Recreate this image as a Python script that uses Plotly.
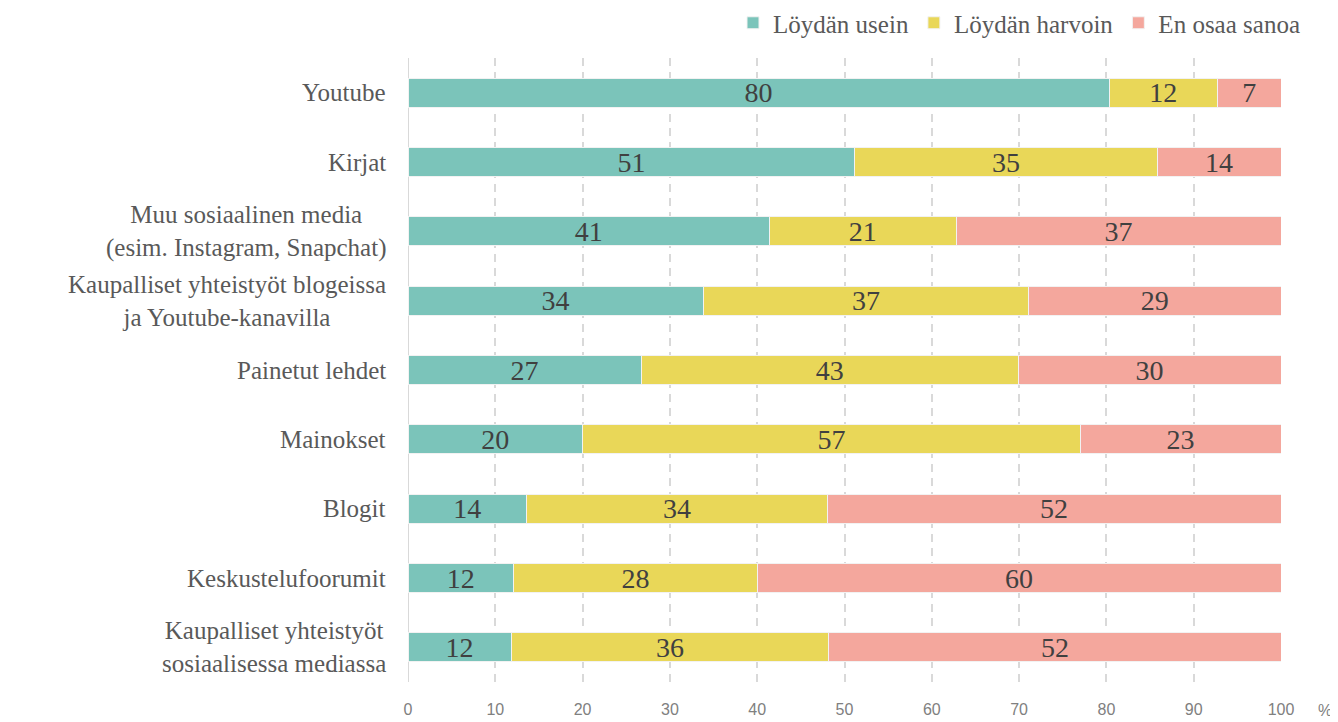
import plotly.graph_objects as go

categories = [
    "Youtube",
    "Kirjat",
    "Muu sosiaalinen media<br>(esim. Instagram, Snapchat)",
    "Kaupalliset yhteistyöt blogeissa<br>ja Youtube-kanavilla",
    "Painetut lehdet",
    "Mainokset",
    "Blogit",
    "Keskustelufoorumit",
    "Kaupalliset yhteistyöt<br>sosiaalisessa mediassa",
]
usein = [80.3, 51.2, 41.4, 33.8, 26.7, 20.0, 13.6, 12.1, 11.8]
harvoin = [12.4, 34.6, 21.4, 37.3, 43.2, 57.0, 34.4, 27.9, 36.4]
en_osaa = [7.3, 14.2, 37.2, 28.9, 30.1, 23.0, 52.0, 60.0, 51.8]
series_names = ["Löydän usein", "Löydän harvoin", "En osaa sanoa"]
colors = ["#7BC4BA", "#E9D758", "#F4A79D"]
xticks = [0, 10, 20, 30, 40, 50, 60, 70, 80, 90, 100]

serif = "Liberation Serif"
narrow = "Liberation Sans Narrow, Arial Narrow, sans-serif"
fig = go.Figure()
for name, vals, col in zip(series_names, [usein, harvoin, en_osaa], colors):
    fig.add_trace(go.Bar(
        y=categories, x=vals, name=name, orientation="h",
        marker=dict(color=col, line=dict(color="#F2F2F2", width=1)),
        texttemplate="%{x:.0f}", textposition="inside", insidetextanchor="middle",
        textangle=0, constraintext="none",
        textfont=dict(family=serif, size=28, color="#404040"),
        width=0.42, hoverinfo="skip",
    ))

for c in categories:
    fig.add_annotation(x=0, xref="paper", y=c, yref="y", text=c, showarrow=False,
                       xanchor="right", xshift=-20, align="center",
                       font=dict(family=serif, size=25, color="#595959"))

fig.add_annotation(x=1, xref="paper", y=0, yref="paper", text="%", showarrow=False,
                   xanchor="center", yanchor="middle", xshift=44, yshift=-28,
                   font=dict(family=narrow, size=16, color="#808080"))

fig.update_layout(
    width=1338, height=722, barmode="stack",
    margin=dict(l=400, r=65, t=50, b=46),
    plot_bgcolor="white", paper_bgcolor="white",
    font=dict(family=serif),
    legend=dict(orientation="h", xref="container", yref="container",
                x=1297 / 1338, xanchor="right", y=1 - 15 / 722, yanchor="middle",
                font=dict(family=serif, size=25, color="#595959"), traceorder="normal",
                itemwidth=30),
    xaxis=dict(range=[0, 100], tickvals=xticks, showgrid=True, gridcolor="#D9D9D9",
               gridwidth=2, griddash="8px,6px", zeroline=False, showline=False,
               tickfont=dict(family=narrow, size=16, color="#808080"),
               ticks="", ticklabelstandoff=16),
    yaxis=dict(autorange="reversed", showticklabels=False, showgrid=False, zeroline=False,
               showline=False, ticks=""),
    showlegend=True,
)
fig.add_shape(type="line", xref="x", yref="paper", x0=0, x1=0, y0=0, y1=1,
              line=dict(color="#D9D9D9", width=2), layer="below")
fig.write_html("out.html")
